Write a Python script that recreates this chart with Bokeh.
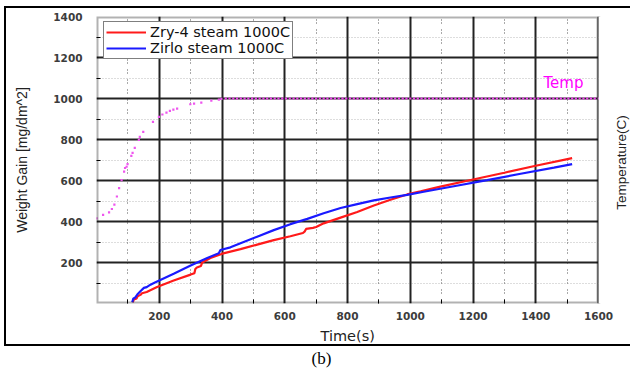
import math

from bokeh.plotting import figure
from bokeh.models import Range1d, FixedTicker, Label, Title, BoxAnnotation
from bokeh.embed import file_html
from bokeh.resources import INLINE

# --- data -------------------------------------------------------------------
x_ticks = [200, 400, 600, 800, 1000, 1200, 1400, 1600]
x_minor = [100, 300, 500, 700, 900, 1100, 1300, 1500]
y_ticks = [200, 400, 600, 800, 1000, 1200, 1400]
y_minor = [100, 300, 500, 700, 900, 1100, 1300]

# Zry-4 in steam at 1000C: time (s) and weight gain (mg/dm^2)
zry4_time = [116, 119, 128, 131, 140, 145, 160, 193, 246, 300, 312, 315, 320,
             333, 337, 363, 401, 459, 512, 565, 618, 658, 664, 668, 690, 700,
             724, 778, 831, 884, 937, 990, 1033, 1096, 1200, 1300, 1400, 1516]
zry4_gain = [6, 20, 25, 35, 42, 50, 56, 80, 112, 141, 148, 168, 176,
             183, 200, 222, 243, 265, 287, 309, 328, 344, 352, 364, 369, 373,
             391, 419, 446, 478, 506, 532, 547, 570, 605, 638, 672, 709]

# Zirlo in steam at 1000C
zirlo_time = [114, 117, 124, 130, 140, 151, 160, 172, 188, 246, 300, 353, 390,
              395, 427, 459, 512, 565, 618, 672, 724, 778, 831, 884, 937, 990,
              1043, 1139, 1245, 1352, 1458, 1516]
zirlo_gain = [6, 23, 30, 44, 60, 76, 80, 92, 104, 145, 185, 222, 245,
              261, 274, 294, 326, 358, 387, 413, 440, 466, 485, 503, 517, 530,
              545, 572, 602, 633, 663, 680]

# Furnace temperature (C): heat-up ramp followed by the 1000C hold
temp_ramp_time = [0, 21, 40, 49, 57, 65, 72, 80, 88, 91, 96, 99, 111, 115, 122,
                  135, 138, 149, 180, 199, 210, 223, 234, 245, 257, 299, 311,
                  334, 366, 390, 398]
temp_ramp = [415, 432, 445, 461, 482, 522, 563, 602, 643, 661, 667, 680, 720,
             735, 759, 798, 813, 837, 886, 910, 922, 931, 940, 946, 951, 972,
             975, 980, 990, 995, 998]
temp_hold_time = list(range(412, 1601, 12))
temp_hold_level = 1000

# --- figure -----------------------------------------------------------------
FL, FB = 96, 303           # plot frame left / bottom in page pixels
X_END, Y_END = x_ticks[-1], y_ticks[-1]
# the frame runs on past the last tick to leave a strip for the
# temperature-axis title; that strip is blanked out below
x_view_end = X_END * (630 - FL) / (598 - FL)

p = figure(width=630, height=374,
           x_range=Range1d(0, x_view_end), y_range=Range1d(0, Y_END),
           output_backend="svg", toolbar_location=None,
           min_border_left=FL, min_border_right=0,
           min_border_top=16, min_border_bottom=374 - FB)
p.background_fill_color = "white"
p.border_fill_color = "white"
p.outline_line_color = None

# panel frame drawn around the whole chart (open on the right edge)
p.stylesheets = [
    ":host::after { content: ''; position: absolute; left: 4px; top: 6px; "
    "width: 624px; height: 336px; border: 2px solid #000; border-right: none; "
    "pointer-events: none; z-index: 10; }"
]

p.xaxis.ticker = FixedTicker(ticks=x_ticks, minor_ticks=x_minor)
p.yaxis.ticker = FixedTicker(ticks=y_ticks, minor_ticks=y_minor)

for ax in list(p.xaxis) + list(p.yaxis):
    ax.axis_line_color = None
    ax.major_tick_line_color = None
    ax.minor_tick_line_color = "black"
    ax.minor_tick_in = 4
    ax.minor_tick_out = 0
    ax.major_label_text_font = "DejaVu Sans"
    ax.major_label_text_font_style = "bold"
    ax.major_label_text_font_size = "10.5px"
    ax.major_label_text_color = "#3c3c3c"
    ax.axis_label_text_font_style = "normal"
    ax.axis_label_text_color = "#222222"
p.xaxis.major_label_standoff = 2
p.yaxis.major_label_standoff = 8

p.yaxis.axis_label = "Weight Gain [mg/dm^2]"
p.yaxis.axis_label_text_font = "Liberation Sans"
p.yaxis.axis_label_text_font_size = "14px"
p.yaxis.axis_label_standoff = 20

# grids: solid major lines, dotted minor lines
p.xgrid.ticker = FixedTicker(ticks=x_ticks, minor_ticks=x_minor)
p.ygrid.ticker = FixedTicker(ticks=y_ticks, minor_ticks=y_minor)
for g in (p.xgrid, p.ygrid):
    g.grid_line_color = "#222222"
    g.grid_line_width = 2
    g.grid_line_alpha = 1.0
p.xgrid.minor_grid_line_color = "#555555"
p.xgrid.minor_grid_line_dash = "1 2 1 6"
p.ygrid.minor_grid_line_color = "#777777"
p.ygrid.minor_grid_line_dash = "1 2"
p.ygrid.minor_grid_line_alpha = 0.5

# temperature points
p.scatter(temp_ramp_time, temp_ramp, marker="square", size=2.2,
          color="#ee55ee", line_color=None)
p.scatter(temp_hold_time, [temp_hold_level] * len(temp_hold_time),
          marker="square", size=2.2, color="#ee44ee", line_color=None)

# weight gain curves
p.line(zry4_time, zry4_gain, line_color="#ff1a1a", line_width=2.2,
       legend_label="Zry-4 steam 1000C")
p.line(zirlo_time, zirlo_gain, line_color="#1a1aff", line_width=2.2,
       legend_label="Zirlo steam 1000C")

# plot-area border, then blank strip to the right of the last tick
p.add_layout(BoxAnnotation(left=0, right=X_END, bottom=0, top=Y_END,
                           fill_alpha=0, line_color="black", line_width=4))
p.add_layout(BoxAnnotation(left=X_END, right=x_view_end, bottom=-Y_END,
                           top=2 * Y_END, fill_color="white", fill_alpha=1,
                           line_color=None))

leg = p.legend[0]
leg.location = (7, 244)
leg.border_line_color = "black"
leg.border_line_width = 1
leg.background_fill_color = "white"
leg.background_fill_alpha = 1.0
leg.label_text_font = "DejaVu Sans"
leg.label_text_font_size = "14.5px"
leg.label_text_color = "#111111"
leg.glyph_width = 40
leg.glyph_height = 16
leg.label_height = 16
leg.label_standoff = 4
leg.padding = 2
leg.spacing = 0
leg.margin = 0


def frame_label(text, px, py, **kw):
    """Text placed by page pixel position, measured from the plot frame."""
    p.add_layout(Label(x=px - FL, y=FB - py, x_units="screen",
                       y_units="screen", text=text, **kw))


# series tag for the temperature trace
frame_label("Temp", 543, 82, text_align="left", text_baseline="middle",
            text_font="DejaVu Sans", text_font_size="15px",
            text_color="#ff00ff")
# temperature-axis title
frame_label("Temperature(C)", 621, 162, angle=math.pi / 2,
            text_align="center", text_baseline="middle",
            text_font="Liberation Sans", text_font_size="13.5px",
            text_color="#222222")

# time-axis title and panel caption, stacked under the tick labels
p.add_layout(Title(text="Time(s)", align="left", offset=224, standoff=6,
                   text_font="DejaVu Sans", text_font_size="14.5px",
                   text_font_style="normal", text_color="#222222"), "below")
p.add_layout(Title(text="(b)", align="left", offset=215, standoff=0,
                   text_font="Liberation Serif", text_font_size="17px",
                   text_font_style="normal", text_color="black"), "below")

open("out.html", "w").write(file_html(p, INLINE))
